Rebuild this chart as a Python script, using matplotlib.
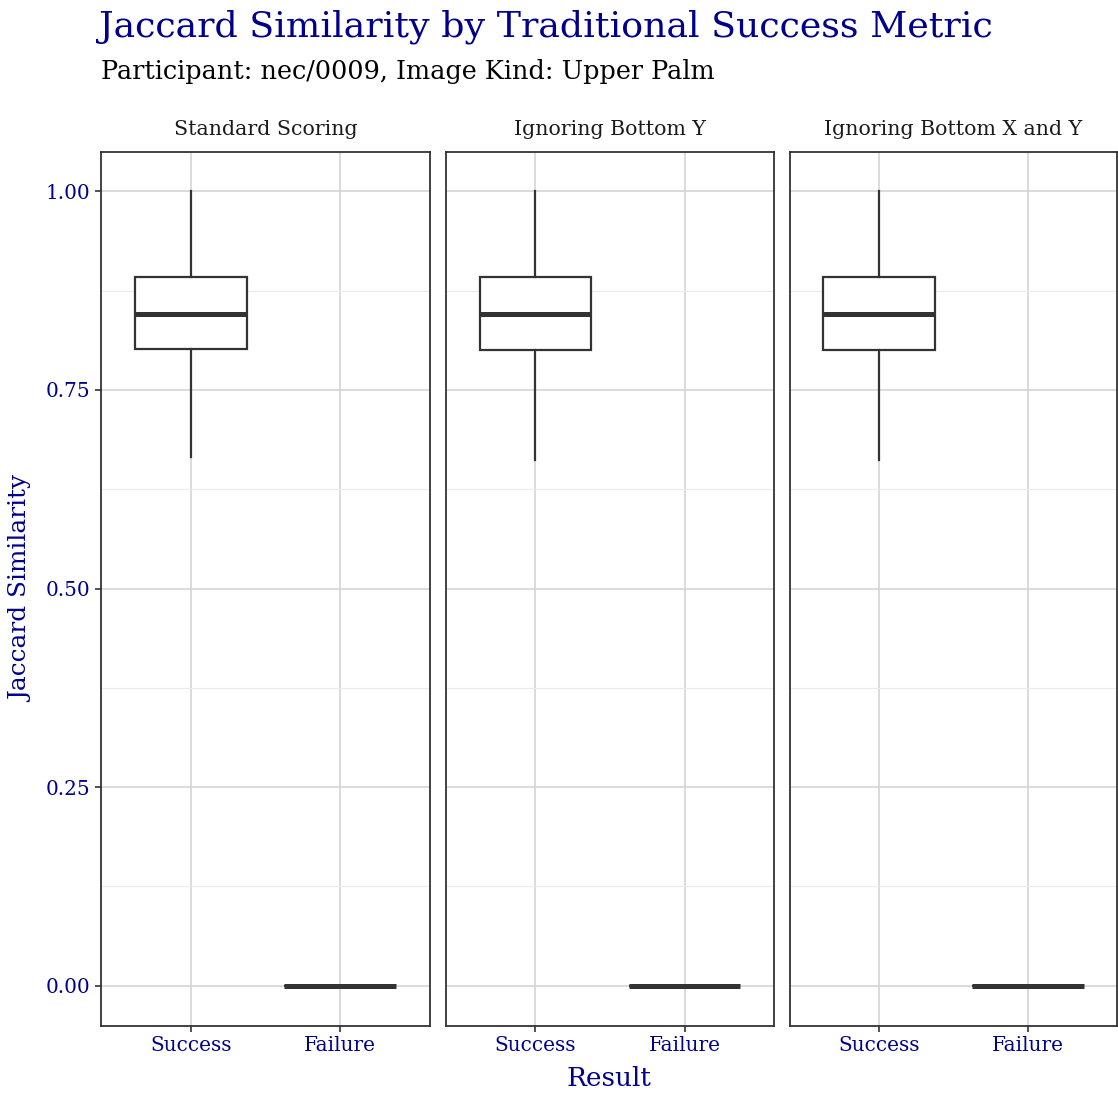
import matplotlib
matplotlib.use("Agg")
import matplotlib.pyplot as plt
from matplotlib.ticker import FixedLocator

panels = ["Standard Scoring", "Ignoring Bottom Y", "Ignoring Bottom X and Y"]
categories = ["Success", "Failure"]
# per panel: [whislo, q1, med, q3, whishi] for Success, Failure
success_stats = [
    [0.665, 0.801, 0.845, 0.892, 1.00],
    [0.662, 0.800, 0.845, 0.892, 1.00],
    [0.662, 0.800, 0.845, 0.892, 1.00],
]
failure_stats = [
    [0.0, 0.0, 0.0, 0.0, 0.0],
    [0.0, 0.0, 0.0, 0.0, 0.0],
    [0.0, 0.0, 0.0, 0.0, 0.0],
]
yticks = [0.00, 0.25, 0.50, 0.75, 1.00]
ytick_labels = ["0.00", "0.25", "0.50", "0.75", "1.00"]
yminor = [0.125, 0.375, 0.625, 0.875]

plt.rcParams['font.family'] = ['DejaVu Serif']
W, H = 1118, 1093
fig = plt.figure(figsize=(W/100, H/100), dpi=100)

blue = "#00008B"
dark = "#333333"
left_px = [101, 446, 790]
right_px = [430, 774, 1117]
top_px, bot_px = 151.5, 1025.5

axes = []
for i in range(3):
    ax = fig.add_axes([left_px[i]/W, 1 - bot_px/H, (right_px[i]-left_px[i])/W, (bot_px-top_px)/H])
    axes.append(ax)
    stats = []
    for cat, s in zip(categories, [success_stats[i], failure_stats[i]]):
        stats.append(dict(label=cat, whislo=s[0], q1=s[1], med=s[2], q3=s[3], whishi=s[4], fliers=[]))
    ax.bxp(stats, positions=[1, 2], widths=0.75, showcaps=False, patch_artist=True,
           boxprops=dict(facecolor="white", edgecolor=dark, linewidth=1.6),
           whiskerprops=dict(color=dark, linewidth=1.6),
           medianprops=dict(color=dark, linewidth=3.6, solid_capstyle="butt"),
           zorder=3)
    ax.set_xlim(0.4, 2.6)
    ax.set_ylim(-0.05, 1.05)
    ax.set_xticks([1, 2])
    ax.set_xticklabels(categories)
    ax.yaxis.set_major_locator(FixedLocator(yticks))
    ax.yaxis.set_minor_locator(FixedLocator(yminor))
    ax.grid(True, which="major", color="#D4D4D4", linewidth=1.2, zorder=0)
    ax.grid(True, which="minor", axis="y", color="#EBEBEB", linewidth=0.8, zorder=0)
    ax.set_axisbelow(True)
    for sp in ax.spines.values():
        sp.set_color(dark)
        sp.set_linewidth(1.3)
    ax.tick_params(axis="both", which="major", length=4, width=1.2, color=dark,
                   labelcolor=blue, labelsize=14.4)
    ax.tick_params(axis="y", which="minor", length=0)
    if i == 0:
        ax.set_yticklabels(ytick_labels)
    else:
        ax.tick_params(axis="y", labelleft=False, length=0)
    ax.set_title(panels[i], fontsize=14.8, color="#1A1A1A", pad=12)

fig.text((left_px[0] + right_px[2]) / 2 / W, 1 - 1078/H, "Result", color=blue,
         fontsize=19, ha="center", va="center")
fig.text(22/W, 1 - 589/H, "Jaccard Similarity", color=blue, fontsize=17.8,
         rotation=90, ha="center", va="center")
fig.text(99/W, 1 - 27/H, "Jaccard Similarity by Traditional Success Metric",
         color=blue, fontsize=26.2, ha="left", va="center")
fig.text(101/W, 1 - 72/H, "Participant: nec/0009, Image Kind: Upper Palm",
         color="black", fontsize=18.4, ha="left", va="center")

fig.savefig("out.png", dpi=100, facecolor="white")
